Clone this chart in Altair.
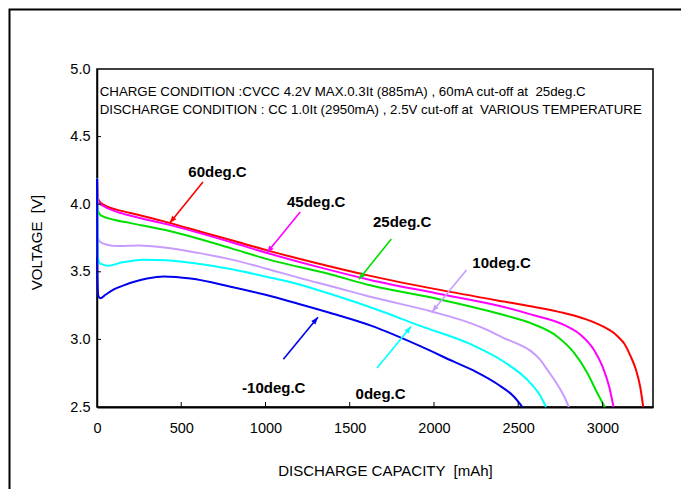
import math
import altair as alt
import pandas as pd

FONT = "Liberation Sans, Arial, Helvetica, sans-serif"
W, H = 556, 338
X_DOMAIN = [0, 3300]
Y_DOMAIN = [2.5, 5.0]

x_ticks = [0, 500, 1000, 1500, 2000, 2500, 3000]
y_ticks = [2.5, 3.0, 3.5, 4.0, 4.5, 5.0]

series_names = ["60deg.C", "45deg.C", "25deg.C", "10deg.C", "0deg.C", "-10deg.C"]
series_colors = ["#ff0000", "#ff00ff", "#00e000", "#c89cff", "#00ffff", "#0000ee"]

# 60 deg.C
red_x = [0, 4, 15, 40, 115, 200, 436, 620, 793, 1021, 1300, 1622, 2019, 2415, 2574, 2772, 2900, 2971, 3020, 3070, 3100, 3129, 3169, 3199, 3224, 3242]
red_v = [4.19, 4.05, 4.02, 3.995, 3.96, 3.935, 3.86, 3.795, 3.735, 3.655, 3.565, 3.47, 3.37, 3.28, 3.245, 3.195, 3.15, 3.115, 3.085, 3.045, 3.01, 2.97, 2.87, 2.775, 2.65, 2.50]
# 45 deg.C
mag_x = [0, 4, 15, 40, 115, 200, 436, 793, 1021, 1300, 1622, 2019, 2415, 2574, 2772, 2871, 2951, 3000, 3040, 3066]
mag_v = [4.19, 4.04, 4.01, 3.985, 3.945, 3.915, 3.845, 3.72, 3.635, 3.54, 3.44, 3.34, 3.24, 3.185, 3.107, 3.033, 2.92, 2.80, 2.65, 2.50]
# 25 deg.C
grn_x = [0, 4, 20, 100, 200, 436, 793, 1021, 1388, 1622, 2019, 2415, 2574, 2733, 2832, 2911, 2971, 3014]
grn_v = [4.19, 3.96, 3.92, 3.885, 3.86, 3.80, 3.675, 3.59, 3.48, 3.40, 3.30, 3.18, 3.12, 3.02, 2.90, 2.75, 2.60, 2.50]
# 10 deg.C
vio_x = [0, 3, 20, 60, 120, 250, 400, 600, 800, 1000, 1200, 1400, 1622, 1989, 2217, 2316, 2415, 2500, 2574, 2630, 2673, 2715, 2752, 2780, 2800]
vio_v = [4.19, 3.76, 3.72, 3.70, 3.69, 3.695, 3.68, 3.64, 3.59, 3.525, 3.455, 3.39, 3.315, 3.205, 3.12, 3.07, 3.01, 2.965, 2.915, 2.85, 2.775, 2.70, 2.625, 2.56, 2.50]
# 0 deg.C
cyn_x = [0, 3, 20, 65, 150, 273, 412, 600, 793, 1000, 1190, 1400, 1640, 1919, 2217, 2415, 2574, 2633, 2665]
cyn_v = [4.19, 3.62, 3.56, 3.545, 3.57, 3.59, 3.585, 3.56, 3.52, 3.465, 3.41, 3.33, 3.23, 3.10, 2.965, 2.835, 2.675, 2.58, 2.50]
# -10 deg.C
blu_x = [0, 2, 8, 20, 50, 100, 159, 297, 397, 555, 793, 1000, 1190, 1400, 1630, 1919, 2118, 2250, 2376, 2475, 2525]
blu_v = [4.19, 3.50, 3.32, 3.305, 3.33, 3.37, 3.40, 3.45, 3.465, 3.45, 3.39, 3.33, 3.265, 3.19, 3.10, 2.95, 2.835, 2.76, 2.67, 2.576, 2.50]

# label positions (data units)
label_x = [715, 1301, 1811, 2401, 1683, 1049]
label_v = [4.238, 4.018, 3.871, 3.567, 2.594, 2.643]

# arrows: tail -> head (data units)
arrow_tail_x = [629, 1206, 1747, 2193, 1662, 1106]
arrow_tail_v = [4.164, 3.942, 3.743, 3.513, 2.788, 2.853]
arrow_head_x = [432, 1009, 1555, 1989, 1864, 1311]
arrow_head_v = [3.861, 3.641, 3.445, 3.205, 3.095, 3.163]

cond_lines = [
    "CHARGE CONDITION :CVCC 4.2V MAX.0.3It (885mA) , 60mA cut-off at \u00a025deg.C",
    "DISCHARGE CONDITION : CC 1.0It (2950mA) , 2.5V cut-off at \u00a0VARIOUS TEMPERATURE",
]
cond_x = [16, 16]
cond_v = [4.832, 4.697]

# ---------- build tables ----------
curve_sets = [red_x, mag_x, grn_x, vio_x, cyn_x, blu_x]
curve_vals = [red_v, mag_v, grn_v, vio_v, cyn_v, blu_v]
rows = []
for name, xs_, vs_ in zip(series_names, curve_sets, curve_vals):
    for i, (a, b) in enumerate(zip(xs_, vs_)):
        rows.append({"series": name, "mAh": a, "V": b, "i": i})
curve_df = pd.DataFrame(rows)

sx = W / (X_DOMAIN[1] - X_DOMAIN[0])
sy = H / (Y_DOMAIN[1] - Y_DOMAIN[0])
angles = []
for tx, tv, hx, hv in zip(arrow_tail_x, arrow_tail_v, arrow_head_x, arrow_head_v):
    dx = (hx - tx) * sx
    dy = -(hv - tv) * sy
    angles.append(math.degrees(math.atan2(dx, -dy)) % 360)

arrow_df = pd.DataFrame({
    "series": series_names,
    "mAh": arrow_tail_x, "V": arrow_tail_v,
    "mAh2": arrow_head_x, "V2": arrow_head_v,
    "hx": arrow_head_x, "hv": arrow_head_v,
    "angle": angles,
})
label_df = pd.DataFrame({"series": series_names, "mAh": label_x, "V": label_v})
cond_df = pd.DataFrame({"txt": cond_lines, "mAh": cond_x, "V": cond_v})
xt_df = pd.DataFrame({"mAh": x_ticks[1:]})
yt_df = pd.DataFrame({"V": y_ticks[1:-1]})
frame_df = pd.DataFrame({"k": [0]})

# ---------- scales / axes ----------
xs = alt.Scale(domain=X_DOMAIN, nice=False, zero=False)
ys = alt.Scale(domain=Y_DOMAIN, nice=False, zero=False)
color_scale = alt.Scale(domain=series_names, range=series_colors)

x_axis = alt.Axis(
    values=x_ticks, format="d", ticks=False, grid=False, labelFlush=False, labelOverlap=False,
    labelFont=FONT, labelFontSize=14.5, labelColor="black", labelPadding=14,
    title="DISCHARGE CAPACITY \u00a0[mAh]", titleFont=FONT, titleFontSize=15,
    titleFontWeight="normal", titleColor="black", titleX=288, titleY=63,
    titleBaseline="middle", titleAlign="center",
    domainColor="black", domainWidth=2,
)
y_axis = alt.Axis(
    values=y_ticks, format=".1f", ticks=False, grid=False, labelFlush=False, labelOverlap=False,
    labelFont=FONT, labelFontSize=14.5, labelColor="black", labelPadding=7,
    title="VOLTAGE \u00a0[V]", titleFont=FONT, titleFontSize=15, titleFontWeight="normal",
    titleColor="black", titleX=-61, titleY=173, titleAngle=270,
    titleBaseline="middle", titleAlign="center",
    domainColor="black", domainWidth=1.5,
)

X = alt.X("mAh:Q", scale=xs, axis=x_axis)
Y = alt.Y("V:Q", scale=ys, axis=y_axis)

frame = alt.Chart(frame_df).mark_rect(
    fill="white", fillOpacity=0, stroke="black", strokeWidth=2
).encode(
    x=alt.value(-87.5), x2=alt.value(700), y=alt.value(-59.5), y2=alt.value(500)
)

curves = alt.Chart(curve_df).mark_line(strokeWidth=2, interpolate="monotone").encode(
    x=X, y=Y,
    color=alt.Color("series:N", scale=color_scale, legend=None),
    order="i:Q",
)

xtick = alt.Chart(xt_df).mark_rule(color="black", strokeWidth=1).encode(
    x=X, y=alt.value(H), y2=alt.value(H - 5)
)
ytick = alt.Chart(yt_df).mark_rule(color="black", strokeWidth=1).encode(
    y=Y, x=alt.value(0), x2=alt.value(4)
)

arrow_lines = alt.Chart(arrow_df).mark_rule(strokeWidth=1.6).encode(
    x=X, y=Y, x2="mAh2:Q", y2="V2:Q",
    color=alt.Color("series:N", scale=color_scale, legend=None),
)
arrow_heads = alt.Chart(arrow_df).mark_point(
    shape="M0,0L-0.38,1L0.38,1Z", size=200, filled=True, opacity=1
).encode(
    x=alt.X("hx:Q", scale=xs, axis=x_axis),
    y=alt.Y("hv:Q", scale=ys, axis=y_axis),
    angle=alt.Angle("angle:Q", scale=None),
    color=alt.Color("series:N", scale=color_scale, legend=None),
)

labels = alt.Chart(label_df).mark_text(
    font=FONT, fontSize=15, fontWeight="bold", color="black", align="center", baseline="middle"
).encode(x=X, y=Y, text="series:N")

cond = alt.Chart(cond_df).mark_text(
    font=FONT, fontSize=13.3, color="black", align="left", baseline="middle"
).encode(x=X, y=Y, text="txt:N")

chart = alt.layer(
    frame, curves, xtick, ytick, arrow_lines, arrow_heads, labels, cond
).properties(
    width=W, height=H,
    autosize=alt.AutoSizeParams(type="none"),
    padding={"left": 89, "top": 61, "right": 28, "bottom": 82},
    background="white",
).configure_view(stroke="black", strokeWidth=1.5)

chart.save("out.html", embed_options={"renderer": "svg", "actions": False})
